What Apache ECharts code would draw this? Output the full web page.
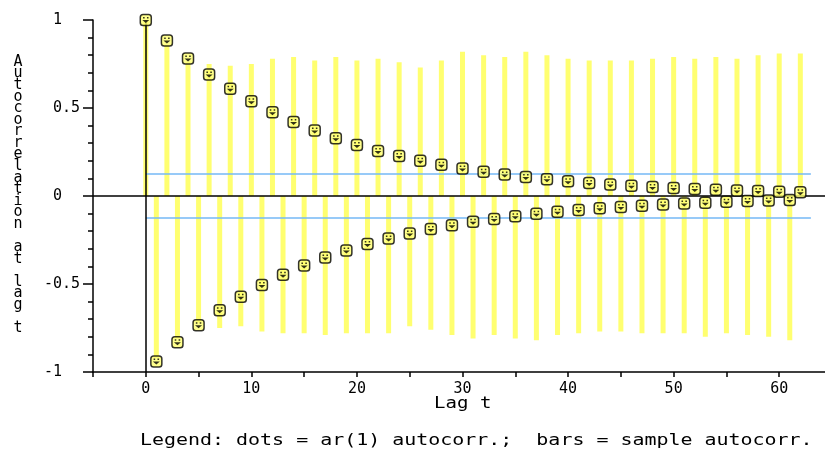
<!DOCTYPE html>
<html>
<head>
<meta charset="utf-8">
<script src="https://cdn.jsdelivr.net/npm/echarts@6/dist/echarts.min.js"></script>
<style>html,body{margin:0;padding:0;background:#fff;}#c{width:825px;height:450px;}</style>
</head>
<body>
<div id="c"></div>
<script>
// Lags 0..62
var lags = [0,1,2,3,4,5,6,7,8,9,10,11,12,13,14,15,16,17,18,19,20,21,22,23,24,25,26,27,28,29,30,31,32,33,34,35,36,37,38,39,40,41,42,43,44,45,46,47,48,49,50,51,52,53,54,55,56,57,58,59,60,61,62];
// bars = sample autocorrelation
var sampleAutocorr = [1.0,-0.92,0.86,-0.81,0.76,-0.72,0.75,-0.75,0.74,-0.74,0.75,-0.77,0.78,-0.78,0.79,-0.78,0.77,-0.79,0.79,-0.78,0.77,-0.78,0.78,-0.78,0.76,-0.74,0.73,-0.76,0.77,-0.79,0.82,-0.81,0.80,-0.79,0.79,-0.81,0.82,-0.82,0.80,-0.79,0.78,-0.78,0.77,-0.77,0.77,-0.77,0.77,-0.78,0.78,-0.78,0.79,-0.78,0.78,-0.80,0.79,-0.78,0.78,-0.79,0.80,-0.80,0.81,-0.82,0.81];
// dots = ar(1) autocorrelation
var ar1Autocorr = [1.0,-0.94,0.884,-0.831,0.781,-0.734,0.690,-0.649,0.610,-0.573,0.539,-0.506,0.476,-0.447,0.421,-0.395,0.372,-0.349,0.328,-0.309,0.290,-0.273,0.256,-0.241,0.227,-0.213,0.200,-0.188,0.177,-0.166,0.156,-0.147,0.138,-0.130,0.122,-0.115,0.108,-0.101,0.095,-0.090,0.084,-0.079,0.074,-0.070,0.066,-0.062,0.058,-0.055,0.051,-0.048,0.045,-0.043,0.040,-0.038,0.035,-0.033,0.031,-0.029,0.028,-0.026,0.024,-0.023,0.022];
// confidence bands
var bandLevel = [0.126, -0.126];
var bandRange = [0, 63];
var xTickLabels = [0,10,20,30,40,50,60];
var yTickLabels = [-1,-0.5,0,0.5,1];
var xTitle = 'Lag t';
var yTitle = 'Autocorrelation at lag t';
var legendText = 'Legend: dots = ar(1) autocorr.;  bars = sample autocorr.';

var FONT = '"DejaVu Sans Mono", "Liberation Mono", monospace';
var barData = lags.map(function(l,i){return [l, sampleAutocorr[i]];});
var dotData = lags.map(function(l,i){return [l, ar1Autocorr[i]];});

var chart = echarts.init(document.getElementById('c'), null, {renderer:'canvas'});
chart.setOption({
  animation: false,
  backgroundColor: '#fff',
  grid: {left: 93, top: 20, right: -7, bottom: 78, containLabel: false, outerBoundsMode: 'none'},
  xAxis: {
    type: 'value', min: -5, max: 65, interval: 5,
    axisLine: {onZero: false, lineStyle: {color: '#000', width: 1.5}},
    axisTick: {show: true, length: 5, lineStyle: {color: '#000', width: 1.5}},
    axisLabel: {
      margin: 10, color: '#000', fontFamily: FONT, fontSize: 15,
      formatter: function(v){ return xTickLabels.indexOf(v) >= 0 ? String(v) : ''; }
    },
    splitLine: {show: false}
  },
  yAxis: {
    type: 'value', min: -1, max: 1, interval: 0.5,
    axisLine: {onZero: false, lineStyle: {color: '#000', width: 1.5}},
    axisTick: {show: true, length: 10, lineStyle: {color: '#000', width: 1.5}},
    minorTick: {show: true, splitNumber: 5, length: 5, lineStyle: {color: '#000', width: 1.5}},
    axisLabel: {
      margin: 13, color: '#000', fontFamily: FONT, fontSize: 15,
      formatter: function(v){
        var r = Math.round(v*10)/10;
        if (yTickLabels.indexOf(r) < 0) return '';
        return Number.isInteger(r) ? String(r) + '  ' : String(r);
      }
    },
    splitLine: {show: false}
  },
  series: [
    {
      type: 'bar', data: barData, barWidth: 5, z: 2,
      itemStyle: {color: '#ffff70'}, silent: true
    },
    {
      type: 'line', data: [], z: 3, silent: true,
      markLine: {
        silent: true, symbol: ['none','none'], label: {show: false},
        lineStyle: {color: '#74b8f6', width: 1.5, type: 'solid'},
        data: bandLevel.map(function(b){ return [{coord:[bandRange[0], b]}, {coord:[bandRange[1], b]}]; })
      }
    },
    {
      type: 'line', data: [], z: 4, silent: true,
      markLine: {
        silent: true, symbol: ['none','none'], label: {show: false},
        lineStyle: {color: '#000', width: 1.5, type: 'solid'},
        data: [{yAxis: 0}, {xAxis: 0}]
      }
    },
    {
      type: 'scatter', data: dotData, z: 5, silent: true,
      symbol: 'roundRect', symbolSize: 11,
      itemStyle: {color: '#ffff70', borderColor: '#000', borderWidth: 1.5}
    },
    {
      type: 'scatter', data: dotData, z: 6, silent: true,
      symbol: 'path://M1,0h2v2h-2z M6,0h2v2h-2z M0,4h9l-4.5,4z', symbolSize: [7,6],
      itemStyle: {color: '#000'}
    }
  ],
  graphic: [
    {
      type: 'text', z: 10,
      x: 434, y: 397, scaleX: 1.27,
      style: {text: xTitle, fill: '#000', font: '15px ' + FONT}
    },
    {
      type: 'text', z: 10,
      x: 140, y: 434, scaleX: 1.33,
      style: {text: legendText, fill: '#000', font: '15px ' + FONT}
    },
    {
      type: 'text', z: 10,
      x: 18, y: 195,
      style: {
        text: yTitle.split('').join('\n'), fill: '#000', font: '15px ' + FONT,
        lineHeight: 11.57, align: 'center', verticalAlign: 'middle'
      }
    }
  ]
});
</script>
</body>
</html>
